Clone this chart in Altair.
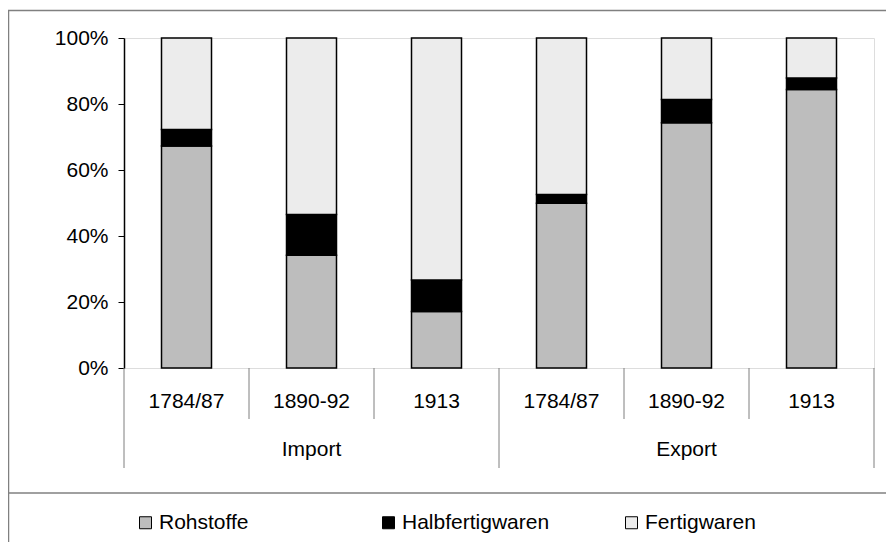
import altair as alt
import pandas as pd

groups = ["Import", "Export"]
periods = ["1784/87", "1890-92", "1913"]
kategorien = ["Rohstoffe", "Halbfertigwaren", "Fertigwaren"]

import_rohstoffe = [67.3, 34.2, 17.1]
import_halbfertig = [5.0, 12.3, 9.6]
import_fertig = [27.7, 53.5, 73.3]

export_rohstoffe = [49.9, 74.3, 84.4]
export_halbfertig = [2.7, 7.1, 3.5]
export_fertig = [47.4, 18.6, 12.1]

series = {
    "Import": [import_rohstoffe, import_halbfertig, import_fertig],
    "Export": [export_rohstoffe, export_halbfertig, export_fertig],
}

rows = []
keys = []
for g in groups:
    for i, p in enumerate(periods):
        k = f"{g}|{p}"
        keys.append(k)
        for j, kat in enumerate(kategorien):
            rows.append({"key": k, "group": g, "period": p, "Kategorie": kat,
                         "ord": j, "value": series[g][j][i]})
df = pd.DataFrame(rows)

FONT = "Liberation Sans, Arial, sans-serif"
FS = 21

xscale = alt.Scale(domain=keys, paddingInner=0.6, paddingOuter=0.3)

bars = alt.Chart(df).mark_bar(stroke="black", strokeWidth=1.5).encode(
    x=alt.X("key:N", scale=xscale, sort=keys, title=None,
            axis=alt.Axis(labels=False, ticks=False, domainColor="black",
                          domainWidth=1.5)),
    y=alt.Y("value:Q", stack="normalize", title=None,
            axis=alt.Axis(format=".0%", values=[0, 0.2, 0.4, 0.6, 0.8, 1.0],
                          grid=False, tickSize=6, tickColor="black",
                          domainColor="black", domainWidth=1.5,
                          labelFontSize=FS, labelFont=FONT, labelColor="black",
                          labelPadding=10)),
    color=alt.Color("Kategorie:N",
                    scale=alt.Scale(domain=kategorien,
                                    range=["#bdbdbd", "#000000", "#ececec"]),
                    legend=alt.Legend(orient="none", legendX=11, legendY=474,
                                      direction="horizontal", title=None,
                                      columns=3, gridAlign="all",
                                      symbolType="square", symbolSize=144,
                                      symbolStrokeColor="black", symbolStrokeWidth=1,
                                      labelFontSize=FS, labelFont=FONT,
                                      labelColor="black", labelOffset=3,
                                      columnPadding=71, labelLimit=400)),
    order=alt.Order("ord:Q"),
)

sep_df = pd.DataFrame({"key": keys, "pos": [0, 1, 2, 0, 1, 2],
                       "period": periods * 2})

period_labels = alt.Chart(sep_df).mark_text(
    fontSize=FS, font=FONT, color="black", baseline="middle").encode(
    x=alt.X("key:N", scale=xscale, sort=keys, axis=None),
    y=alt.value(364), text="period:N")

short_rules = alt.Chart(sep_df).transform_filter("datum.pos > 0").mark_rule(
    color="#7f7f7f", strokeWidth=1, xOffset=-37.5).encode(
    x=alt.X("key:N", scale=xscale, sort=keys, bandPosition=0, axis=None),
    y=alt.value(330), y2=alt.value(381))

long_rules = alt.Chart(sep_df).transform_filter("datum.pos == 0").mark_rule(
    color="#7f7f7f", strokeWidth=1, xOffset=-37.5).encode(
    x=alt.X("key:N", scale=xscale, sort=keys, bandPosition=0, axis=None),
    y=alt.value(330), y2=alt.value(430))

end_rule = alt.Chart(sep_df).transform_filter(f"datum.key == '{keys[-1]}'").mark_rule(
    color="#7f7f7f", strokeWidth=1, xOffset=37.5).encode(
    x=alt.X("key:N", scale=xscale, sort=keys, bandPosition=1, axis=None),
    y=alt.value(330), y2=alt.value(430))

grp_df = pd.DataFrame({"group": groups, "key": [f"{g}|{periods[1]}" for g in groups]})
group_labels = alt.Chart(grp_df).mark_text(
    fontSize=FS, font=FONT, color="black", baseline="middle").encode(
    x=alt.X("key:N", scale=xscale, sort=keys, axis=None),
    y=alt.value(412), text="group:N")

one = pd.DataFrame({"a": [0]})
frame = alt.Chart(one).mark_rect(filled=False, stroke="#808080", strokeWidth=1.5).encode(
    x=alt.value(-115.5), x2=alt.value(1200), y=alt.value(-27.5), y2=alt.value(1200))
legend_sep = alt.Chart(one).mark_rule(color="#808080", strokeWidth=1.5).encode(
    x=alt.value(-116), x2=alt.value(1200), y=alt.value(455))

chart = alt.layer(frame, legend_sep, short_rules, long_rules, end_rule, bars,
                  period_labels, group_labels).properties(
    width=750, height=330,
    autosize=alt.AutoSizeParams(type="none"),
    padding={"left": 116, "top": 30, "right": 12, "bottom": 174},
).configure_view(stroke="#8c8c8c", strokeWidth=1.5).configure(background="white")

chart.save("out.html", embed_options={"renderer": "svg", "actions": False})
